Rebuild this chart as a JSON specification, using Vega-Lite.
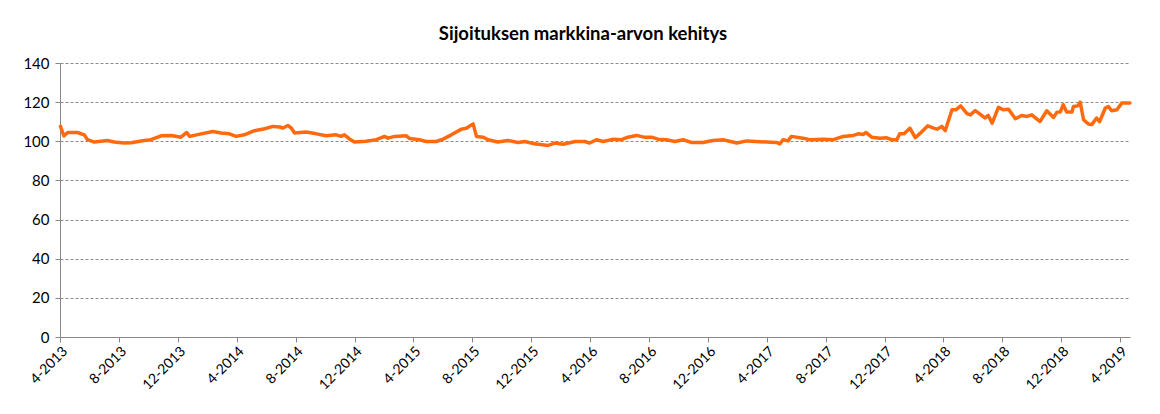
{
  "$schema": "https://vega.github.io/schema/vega-lite/v6.json",
  "autosize": "none",
  "width": 1070,
  "height": 274,
  "padding": {"left": 60, "top": 63, "right": 30, "bottom": 77},
  "background": "white",
  "title": {
    "text": "Sijoituksen markkina-arvon kehitys",
    "font": "Lato",
    "fontSize": 18.5,
    "fontWeight": "bold",
    "color": "#000000",
    "anchor": "middle",
    "dx": -12,
    "offset": 13
  },
  "config": {
    "view": {"stroke": null},
    "font": "Lato"
  },
  "data": {
    "values": [
      {"date": "2013-04-02", "value": 107.6},
      {"date": "2013-04-09", "value": 102.8},
      {"date": "2013-04-17", "value": 104.5},
      {"date": "2013-05-07", "value": 104.5},
      {"date": "2013-05-21", "value": 103.3},
      {"date": "2013-05-28", "value": 100.8},
      {"date": "2013-06-11", "value": 99.6},
      {"date": "2013-07-08", "value": 100.4},
      {"date": "2013-07-22", "value": 99.6},
      {"date": "2013-08-12", "value": 99.1},
      {"date": "2013-08-26", "value": 99.3},
      {"date": "2013-09-22", "value": 100.4},
      {"date": "2013-10-06", "value": 100.8},
      {"date": "2013-10-27", "value": 102.8},
      {"date": "2013-11-17", "value": 103.0},
      {"date": "2013-12-07", "value": 102.1},
      {"date": "2013-12-19", "value": 104.5},
      {"date": "2013-12-25", "value": 102.5},
      {"date": "2014-01-18", "value": 103.8},
      {"date": "2014-02-11", "value": 105.0},
      {"date": "2014-02-28", "value": 104.2},
      {"date": "2014-03-17", "value": 103.8},
      {"date": "2014-03-31", "value": 102.5},
      {"date": "2014-04-17", "value": 103.3},
      {"date": "2014-05-08", "value": 105.4},
      {"date": "2014-05-29", "value": 106.4},
      {"date": "2014-06-15", "value": 107.6},
      {"date": "2014-06-29", "value": 107.3},
      {"date": "2014-07-06", "value": 106.8},
      {"date": "2014-07-16", "value": 108.1},
      {"date": "2014-07-23", "value": 106.8},
      {"date": "2014-07-30", "value": 104.2},
      {"date": "2014-08-23", "value": 104.7},
      {"date": "2014-09-13", "value": 103.8},
      {"date": "2014-10-03", "value": 102.8},
      {"date": "2014-10-24", "value": 103.3},
      {"date": "2014-11-03", "value": 102.5},
      {"date": "2014-11-10", "value": 103.3},
      {"date": "2014-11-21", "value": 101.1},
      {"date": "2014-12-01", "value": 99.6},
      {"date": "2014-12-25", "value": 100.0},
      {"date": "2015-01-15", "value": 100.8},
      {"date": "2015-02-01", "value": 102.5},
      {"date": "2015-02-08", "value": 101.6},
      {"date": "2015-02-22", "value": 102.5},
      {"date": "2015-03-18", "value": 102.8},
      {"date": "2015-03-25", "value": 101.4},
      {"date": "2015-04-14", "value": 100.8},
      {"date": "2015-04-28", "value": 99.9},
      {"date": "2015-05-19", "value": 99.9},
      {"date": "2015-06-02", "value": 101.1},
      {"date": "2015-06-19", "value": 103.3},
      {"date": "2015-07-10", "value": 106.2},
      {"date": "2015-07-20", "value": 106.7},
      {"date": "2015-08-03", "value": 108.9},
      {"date": "2015-08-10", "value": 102.5},
      {"date": "2015-08-24", "value": 102.1},
      {"date": "2015-09-03", "value": 100.8},
      {"date": "2015-09-23", "value": 99.6},
      {"date": "2015-10-14", "value": 100.4},
      {"date": "2015-11-04", "value": 99.4},
      {"date": "2015-11-18", "value": 99.9},
      {"date": "2015-12-08", "value": 98.7},
      {"date": "2016-01-05", "value": 97.9},
      {"date": "2016-01-19", "value": 99.1},
      {"date": "2016-02-05", "value": 98.5},
      {"date": "2016-03-01", "value": 99.9},
      {"date": "2016-03-21", "value": 99.9},
      {"date": "2016-03-31", "value": 99.1},
      {"date": "2016-04-14", "value": 100.8},
      {"date": "2016-04-28", "value": 99.9},
      {"date": "2016-05-19", "value": 101.1},
      {"date": "2016-06-05", "value": 100.8},
      {"date": "2016-06-18", "value": 102.1},
      {"date": "2016-07-06", "value": 103.0},
      {"date": "2016-07-23", "value": 102.0},
      {"date": "2016-08-06", "value": 102.1},
      {"date": "2016-08-19", "value": 101.1},
      {"date": "2016-09-06", "value": 100.8},
      {"date": "2016-09-23", "value": 99.9},
      {"date": "2016-10-10", "value": 100.8},
      {"date": "2016-10-27", "value": 99.4},
      {"date": "2016-11-20", "value": 99.4},
      {"date": "2016-12-11", "value": 100.4},
      {"date": "2017-01-01", "value": 100.8},
      {"date": "2017-01-29", "value": 99.1},
      {"date": "2017-02-19", "value": 100.2},
      {"date": "2017-03-18", "value": 99.8},
      {"date": "2017-04-01", "value": 99.6},
      {"date": "2017-04-21", "value": 99.4},
      {"date": "2017-04-28", "value": 98.7},
      {"date": "2017-05-05", "value": 100.8},
      {"date": "2017-05-15", "value": 100.2},
      {"date": "2017-05-22", "value": 102.5},
      {"date": "2017-06-15", "value": 101.6},
      {"date": "2017-06-29", "value": 100.8},
      {"date": "2017-07-27", "value": 101.1},
      {"date": "2017-08-17", "value": 100.8},
      {"date": "2017-09-06", "value": 102.5},
      {"date": "2017-09-27", "value": 103.0},
      {"date": "2017-10-07", "value": 103.8},
      {"date": "2017-10-18", "value": 103.5},
      {"date": "2017-10-23", "value": 104.5},
      {"date": "2017-11-04", "value": 102.1},
      {"date": "2017-11-21", "value": 101.6},
      {"date": "2017-12-05", "value": 101.8},
      {"date": "2017-12-15", "value": 100.8},
      {"date": "2017-12-26", "value": 100.8},
      {"date": "2018-01-01", "value": 103.8},
      {"date": "2018-01-10", "value": 103.8},
      {"date": "2018-01-22", "value": 106.7},
      {"date": "2018-02-02", "value": 101.9},
      {"date": "2018-02-12", "value": 104.0},
      {"date": "2018-02-28", "value": 107.9},
      {"date": "2018-03-12", "value": 106.7},
      {"date": "2018-03-19", "value": 106.2},
      {"date": "2018-03-29", "value": 107.6},
      {"date": "2018-04-05", "value": 105.4},
      {"date": "2018-04-19", "value": 116.1},
      {"date": "2018-04-27", "value": 116.1},
      {"date": "2018-05-07", "value": 118.1},
      {"date": "2018-05-20", "value": 114.1},
      {"date": "2018-05-27", "value": 113.5},
      {"date": "2018-06-06", "value": 115.7},
      {"date": "2018-06-16", "value": 113.9},
      {"date": "2018-06-26", "value": 111.9},
      {"date": "2018-07-03", "value": 113.2},
      {"date": "2018-07-11", "value": 109.3},
      {"date": "2018-07-24", "value": 117.3},
      {"date": "2018-08-03", "value": 116.1},
      {"date": "2018-08-14", "value": 116.4},
      {"date": "2018-08-28", "value": 111.5},
      {"date": "2018-09-10", "value": 113.2},
      {"date": "2018-09-21", "value": 112.7},
      {"date": "2018-10-01", "value": 113.5},
      {"date": "2018-10-18", "value": 110.1},
      {"date": "2018-11-01", "value": 115.6},
      {"date": "2018-11-15", "value": 112.2},
      {"date": "2018-11-22", "value": 114.9},
      {"date": "2018-11-29", "value": 115.0},
      {"date": "2018-12-05", "value": 118.7},
      {"date": "2018-12-12", "value": 115.0},
      {"date": "2018-12-23", "value": 115.0},
      {"date": "2018-12-26", "value": 117.8},
      {"date": "2019-01-04", "value": 118.1},
      {"date": "2019-01-09", "value": 120.0},
      {"date": "2019-01-16", "value": 111.0},
      {"date": "2019-01-26", "value": 108.8},
      {"date": "2019-02-02", "value": 108.5},
      {"date": "2019-02-12", "value": 111.9},
      {"date": "2019-02-18", "value": 110.0},
      {"date": "2019-03-02", "value": 117.0},
      {"date": "2019-03-08", "value": 117.8},
      {"date": "2019-03-15", "value": 115.6},
      {"date": "2019-03-26", "value": 116.1},
      {"date": "2019-04-05", "value": 119.5},
      {"date": "2019-04-22", "value": 119.5}
    ]
  },
  "mark": {"type": "line", "color": "#FF6A0E", "strokeWidth": 3.5, "strokeJoin": "round", "strokeCap": "round"},
  "encoding": {
    "x": {
      "field": "date",
      "type": "temporal",
      "title": null,
      "scale": {"domain": ["2013-04-01", "2019-04-22"]},
      "axis": {
        "values": ["2013-04-01", "2013-08-01", "2013-12-01", "2014-04-01", "2014-08-01", "2014-12-01", "2015-04-01", "2015-08-01", "2015-12-01", "2016-04-01", "2016-08-01", "2016-12-01", "2017-04-01", "2017-08-01", "2017-12-01", "2018-04-01", "2018-08-01", "2018-12-01", "2019-04-01"],
        "format": "%-m-%Y",
        "labelAngle": -45,
        "labelFontSize": 14,
        "labelColor": "#000000",
        "labelFont": "Lato",
        "domainColor": "#888888",
        "tickColor": "#888888",
        "tickSize": 5,
        "grid": false,
        "labelPadding": 2,
        "labelOverlap": false,
        "labelFlush": false
      }
    },
    "y": {
      "field": "value",
      "type": "quantitative",
      "title": null,
      "scale": {"domain": [0, 140], "nice": false},
      "axis": {
        "values": [0, 20, 40, 60, 80, 100, 120, 140],
        "labelFontSize": 15,
        "labelColor": "#000000",
        "labelFont": "Lato",
        "domainColor": "#888888",
        "tickColor": "#888888",
        "tickSize": 5,
        "labelPadding": 6,
        "grid": true,
        "gridColor": "#8c8c8c",
        "gridDash": [3, 2],
        "gridWidth": 1
      }
    }
  }
}
